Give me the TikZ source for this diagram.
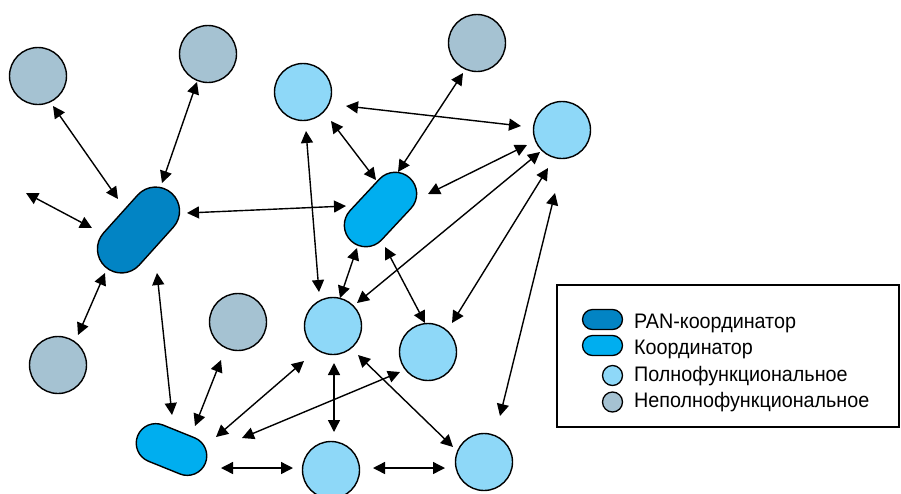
\documentclass[tikz,border=0pt]{standalone}
\usepackage{fontspec}
\newfontfamily\legfont[FakeStretch=0.94]{Liberation Sans}
\usetikzlibrary{arrows.meta,calc}
\definecolor{panblue}{RGB}{2,132,196}
\definecolor{coordblue}{RGB}{0,174,239}
\definecolor{fullblue}{RGB}{142,216,248}
\definecolor{rfdgrey}{RGB}{165,194,210}
\begin{document}
\begin{tikzpicture}[x=1pt,y=-1pt,
  dev/.style={circle,draw,line width=1.4pt,minimum size=57pt,inner sep=0pt},
  full/.style={dev,fill=fullblue},
  rfd/.style={dev,fill=rfdgrey},
  pancoord/.style={rectangle,draw,line width=1.4pt,fill=panblue,rounded corners=24pt,minimum width=99pt,minimum height=48pt,inner sep=0pt},
  coord/.style={rectangle,draw,line width=1.4pt,fill=coordblue,rounded corners=21.5pt,minimum width=86pt,minimum height=43pt,inner sep=0pt},
  coordsm/.style={rectangle,draw,line width=1.4pt,fill=coordblue,rounded corners=19.5pt,minimum width=73pt,minimum height=39pt,inner sep=0pt},
  arr/.style={{Triangle[length=12pt,width=12pt]}-{Triangle[length=12pt,width=12pt]},line width=1.4pt},
  legpan/.style={rectangle,draw,line width=1.3pt,fill=panblue,rounded corners=10pt,minimum width=40pt,minimum height=20pt,inner sep=0pt},
  legcoord/.style={legpan,fill=coordblue},
  legfull/.style={circle,draw,line width=1.3pt,fill=fullblue,minimum size=20pt,inner sep=0pt},
  legrfd/.style={legfull,fill=rfdgrey},
  legtext/.style={anchor=base west,inner sep=0pt,font=\legfont\fontsize{21}{24}\selectfont},
  legbox/.style={draw,line width=2pt}
]
\path[use as bounding box] (0,0) rectangle (901,493);
\clip (0,0) rectangle (901,493);

% devices
\node[rfd] (g1) at (38,76) {};
\node[rfd] (g2) at (208,54) {};
\node[rfd] (g3) at (477,43) {};
\node[rfd] (g4) at (238,322) {};
\node[rfd] (g5) at (58,365) {};
\node[full] (f1) at (303,92) {};
\node[full] (f2) at (562,130) {};
\node[full] (f3) at (333,326) {};
\node[full] (f4) at (428,352) {};
\node[full] (f5) at (331,470) {};
\node[full] (f6) at (484,462) {};
\node[pancoord,rotate=48] (pan) at (138.5,230) {};
\node[coord,rotate=47] (c2) at (380.5,209.5) {};
\node[coordsm,rotate=-22] (c3) at (171.5,449.5) {};
\coordinate (free) at (26,193);

% links
\draw[arr] ($(g1)+(15,30)$) -- ($(pan)+(-20.5,-31)$);
\draw[arr] ($(g2)+(-11,28)$) -- ($(pan)+(23.5,-47)$);
\draw[arr] (free) -- ($(pan)+(-46.5,-2)$);
\draw[arr] ($(g5)+(20,-30)$) -- ($(pan)+(-33.5,43)$);
\draw[arr] ($(pan)+(48.5,-17)$) -- ($(c2)+(-34.5,-3.5)$);
\draw[arr] ($(pan)+(18.5,43)$) -- ($(c3)+(0.5,-34.5)$);
\draw[arr] ($(f1)+(43,14)$) -- ($(f2)+(-41,-4)$);
\draw[arr] ($(f1)+(3,39)$) -- ($(f3)+(-14,-34)$);
\draw[arr] ($(f1)+(28,29)$) -- ($(c2)+(-4.5,-29.5)$);
\draw[arr] ($(g3)+(-14,30)$) -- ($(c2)+(17.5,-37.5)$);
\draw[arr] ($(c2)+(47.5,-15.5)$) -- ($(f2)+(-35,15)$);
\draw[arr] ($(f2)+(-22,22)$) -- ($(f3)+(24,-23)$);
\draw[arr] ($(f2)+(-14,38)$) -- ($(f4)+(24,-29)$);
\draw[arr] ($(f2)+(-7,63)$) -- ($(f6)+(16,-46)$);
\draw[arr] ($(c2)+(-23.5,38.5)$) -- ($(f3)+(7,-28)$);
\draw[arr] ($(c2)+(4.5,37.5)$) -- ($(f4)+(-3,-29)$);
\draw[arr] ($(g4)+(-17,38)$) -- ($(c3)+(23.5,-23.5)$);
\draw[arr] ($(f3)+(-29,35)$) -- ($(c3)+(44.5,-12.5)$);
\draw[arr] ($(f4)+(-28,20)$) -- ($(c3)+(70.5,-11.5)$);
\draw[arr] ($(f3)+(1,37)$) -- ($(f5)+(3,-38)$);
\draw[arr] ($(f3)+(25,29)$) -- ($(f6)+(-31,-15)$);
\draw[arr] ($(c3)+(49.5,18.5)$) -- ($(f5)+(-38,-2)$);
\draw[arr] ($(f5)+(42,-2)$) -- ($(f6)+(-39,6)$);

% legend
\node[legbox,minimum width=342pt,minimum height=142pt,inner sep=0pt] (legend) at (727.5,355.5) {};
\node[legpan] (lpan) at (602.5,319.5) {};
\node[legcoord] (lcoord) at (602.5,345.5) {};
\node[legfull] (lfull) at (612.5,375.5) {};
\node[legrfd] (lrfd) at (612.5,402) {};
\node[legtext] (tpan) at (634,328) {PAN-координатор};
\node[legtext] (tcoord) at (634,354) {Координатор};
\node[legtext] (tfull) at (634,381) {Полнофункциональное};
\node[legtext] (trfd) at (634,407) {Неполнофункциональное};
\end{tikzpicture}
\end{document}
